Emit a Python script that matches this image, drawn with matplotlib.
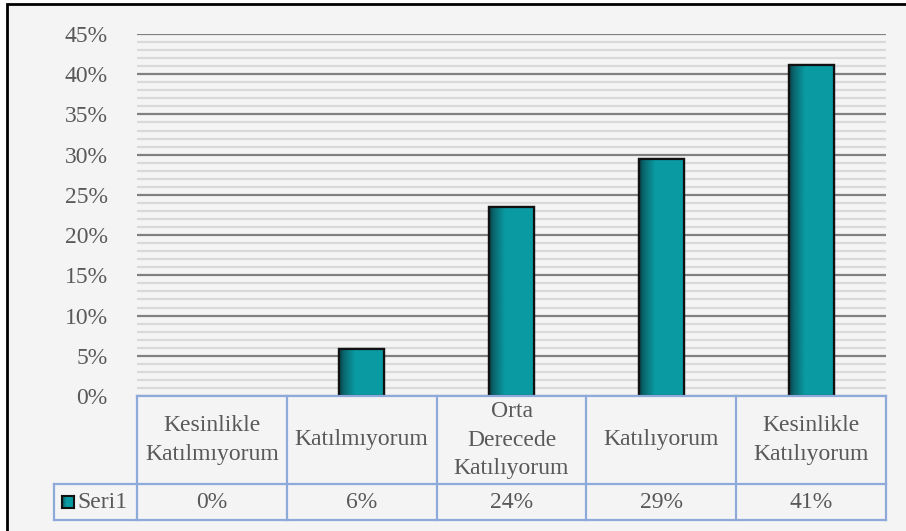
import matplotlib.pyplot as plt
import matplotlib.transforms as mtransforms
from matplotlib.patches import Rectangle
from matplotlib.colors import LinearSegmentedColormap
import numpy as np

categories = ["Kesinlikle\nKatılmıyorum", "Katılmıyorum", "Orta\nDerecede\nKatılıyorum",
              "Katılıyorum", "Kesinlikle\nKatılıyorum"]
values = [0, 5.88, 23.53, 29.41, 41.18]
value_labels = ["0%", "6%", "24%", "29%", "41%"]
series_name = "Seri1"
yticks = [0, 5, 10, 15, 20, 25, 30, 35, 40, 45]

plt.rcParams['font.family'] = ['Liberation Serif', 'DejaVu Serif']
txt = '#595959'
bg = '#f4f4f4'
tbl = '#8eaadb'
fs = 17

W, H = 906, 531
fig = plt.figure(figsize=(W / 100, H / 100), dpi=100)
fig.patch.set_facecolor('white')

# outer frame (right/bottom edges are off the picture)
fig.patches.append(Rectangle((7 / W, -0.05), 1.2, 1 - 4 / H + 0.05, transform=fig.transFigure,
                             facecolor=bg, edgecolor='black', lw=2, zorder=-10))

ax = fig.add_axes([137 / W, (H - 396) / H, (886 - 137) / W, (396 - 34) / H])
ax.set_facecolor('none')
for s in ax.spines.values():
    s.set_visible(False)

# grid
for v in np.arange(0, 46, 1):
    if v % 5 == 0:
        ax.axhline(v, color='#808080', lw=1.6, zorder=1)
    else:
        ax.axhline(v, color='#d9d9d9', lw=1.6, zorder=1)

ax.set_xticks([])
ax.set_yticks(yticks)
ax.set_yticklabels([f"{t}%" for t in yticks], fontsize=fs, color=txt)
ax.tick_params(axis='y', length=0, pad=21)

# bars with a dark left edge gradient
cmap = LinearSegmentedColormap.from_list('g', [(0, '#083f44'), (0.1, '#0a666d'),
                                               (0.35, '#0a9aa2'), (1, '#0a9ba3')])
grad = np.linspace(0, 1, 100).reshape(1, -1)
bw = 0.3
bars = ax.bar(range(len(values)), values, width=bw, color='#0a9ba3', edgecolor='#111111',
              lw=1.6, zorder=3)
for b in bars:
    if b.get_height() <= 0:
        b.set_visible(False)
        continue
    x0, y0, w, h = b.get_x(), b.get_y(), b.get_width(), b.get_height()
    im = ax.imshow(grad, cmap=cmap, extent=(x0, x0 + w, y0, y0 + h), aspect='auto', zorder=3.5)
    im.set_clip_path(b)
    ax.add_patch(Rectangle((x0, y0), w, h, fill=False, edgecolor='#111111', lw=1.6, zorder=4))
ax.set_xlim(-0.5, len(categories) - 0.5)
ax.set_ylim(0, 45)

# data table below the axes
tr = mtransforms.blended_transform_factory(ax.transData, ax.transAxes)
ah = 396 - 34
r1 = -(484 - 396) / ah
r2 = -(520 - 396) / ah
xl = -0.5 - (137 - 54) / ((886 - 137) / len(categories))
n = len(categories)
kw = dict(color=tbl, lw=1.6, transform=tr, clip_on=False, zorder=5)
ax.plot([-0.5, n - 0.5], [0, 0], **kw)
ax.plot([xl, n - 0.5], [r1, r1], **kw)
ax.plot([xl, n - 0.5], [r2, r2], **kw)
ax.plot([xl, xl], [r1, r2], **kw)
for i in range(n + 1):
    ax.plot([i - 0.5, i - 0.5], [0, r2], **kw)

for i, (c, v) in enumerate(zip(categories, value_labels)):
    ax.text(i, r1 / 2, c, transform=tr, ha='center', va='center', fontsize=fs, color=txt,
            linespacing=1.45)
    ax.text(i, (r1 + r2) / 2, v, transform=tr, ha='center', va='center', fontsize=fs, color=txt)

# legend key
lax = fig.add_axes([62 / W, (H - 508) / H, 12 / W, 12 / H])
lax.imshow(grad, cmap=cmap, extent=(0, 1, 0, 1), aspect='auto')
lax.set_xticks([])
lax.set_yticks([])
for s in lax.spines.values():
    s.set_color('#111111')
    s.set_linewidth(1.5)
fig.text(77 / W, (H - 502) / H, series_name, ha='left', va='center', fontsize=fs, color=txt)

fig.savefig('out.png', dpi=100)
